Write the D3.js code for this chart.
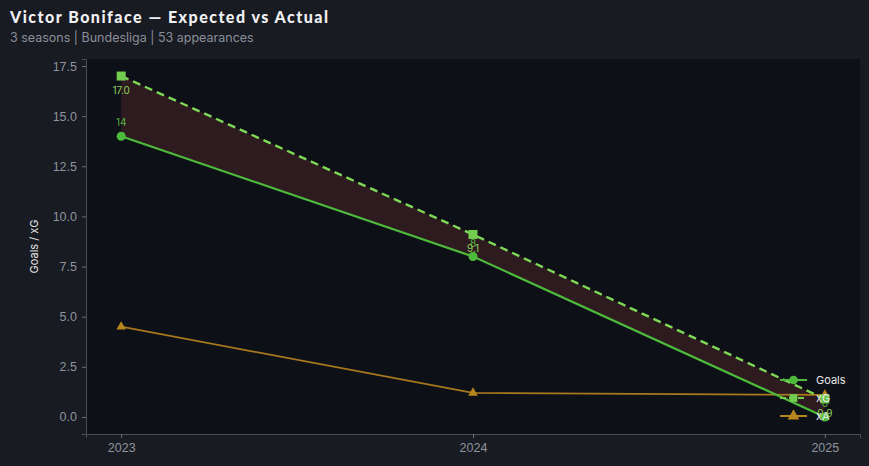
<!DOCTYPE html>
<head>
  <meta charset="utf-8">
  <script src="https://d3js.org/d3.v7.min.js"></script>
  <style>
    body { margin:0; background:#181b22; }
    svg { display:block; font-family: Inter, "Noto Sans", sans-serif; }
  </style>
</head>
<body>
<script>
  // data
  var seasons = [2023, 2024, 2025];
  var goals = [14, 8, 0];
  var xg = [17.0, 9.1, 0.9];
  var xa = [4.5, 1.2, 1.1];
  var yTicks = [0, 2.5, 5, 7.5, 10, 12.5, 15, 17.5];

  var width = 869, height = 466;
  var m = {left: 86, right: 9, top: 59, bottom: 32};

  var svg = d3.select("body").append("svg")
    .attr("width", width).attr("height", height);

  svg.append("rect").attr("width", width).attr("height", height).attr("fill", "#181b22");

  var x = d3.scaleLinear().domain([2022.9, 2025.1]).range([m.left, width - m.right]);
  var y = d3.scaleLinear().domain([-0.85, 17.85]).range([height - m.bottom, m.top]);

  svg.append("rect")
    .attr("x", m.left).attr("y", m.top)
    .attr("width", width - m.right - m.left)
    .attr("height", height - m.bottom - m.top)
    .attr("fill", "#0d1017");

  // title
  svg.append("text").attr("x", 10).attr("y", 23)
    .attr("fill", "#f0f0f2").attr("font-size", 16).attr("font-weight", 900)
    .attr("font-family", "Lato, sans-serif")
    .attr("textLength", 318).attr("lengthAdjust", "spacing")
    .text("Victor Boniface \u2014 Expected vs Actual");
  svg.append("text").attr("x", 10).attr("y", 42)
    .attr("fill", "#8a8f99").attr("font-size", 12.5)
    .text("3 seasons | Bundesliga | 53 appearances");

  // axes
  var yAxis = svg.append("g").attr("transform", "translate(" + m.left + ",0)")
    .call(d3.axisLeft(y).tickValues(yTicks).tickFormat(d3.format(".1f")).tickSize(4).tickPadding(5));
  var xAxis = svg.append("g").attr("transform", "translate(0," + (height - m.bottom) + ")")
    .call(d3.axisBottom(x).tickValues(seasons).tickFormat(d3.format("d")).tickSize(4).tickPadding(5));
  [xAxis, yAxis].forEach(function(g) {
    g.select(".domain").attr("stroke", "#4a4e57");
    g.selectAll(".tick line").attr("stroke", "#6a6e77");
    g.selectAll(".tick text").attr("fill", "#8e939c").attr("font-size", 12.5);
  });

  svg.append("text")
    .attr("transform", "translate(38," + y(8.5) + ") rotate(-90)")
    .attr("text-anchor", "middle").attr("fill", "#e6e6e6").attr("font-size", 11)
    .text("Goals / xG");

  var idx = d3.range(seasons.length);

  // gap between xG and goals
  svg.append("path")
    .datum(idx)
    .attr("fill", "#2e1b1f")
    .attr("d", d3.area()
      .x(function(i) { return x(seasons[i]); })
      .y0(function(i) { return y(goals[i]); })
      .y1(function(i) { return y(xg[i]); }));

  var line = function(vals) {
    return d3.line().x(function(i) { return x(seasons[i]); }).y(function(i) { return y(vals[i]); })(idx);
  };

  // xA
  svg.append("path").attr("d", line(xa)).attr("fill", "none")
    .attr("stroke", "#a8781c").attr("stroke-width", 1.8);
  svg.selectAll("path.xa").data(idx).enter().append("path").attr("class", "xa")
    .attr("transform", function(i) { return "translate(" + x(seasons[i]) + "," + y(xa[i]) + ")"; })
    .attr("d", d3.symbol(d3.symbolTriangle, 40)).attr("fill", "#b8861f");

  // goals
  svg.append("path").attr("d", line(goals)).attr("fill", "none")
    .attr("stroke", "#4dba3c").attr("stroke-width", 2.2);
  svg.selectAll("circle.g").data(idx).enter().append("circle").attr("class", "g")
    .attr("cx", function(i) { return x(seasons[i]); })
    .attr("cy", function(i) { return y(goals[i]); })
    .attr("r", 4.5).attr("fill", "#4dba3c");

  // xG
  svg.append("path").attr("d", line(xg)).attr("fill", "none")
    .attr("stroke", "#7ed957").attr("stroke-width", 2.4).attr("stroke-dasharray", "8,5");
  svg.selectAll("rect.xg").data(idx).enter().append("rect").attr("class", "xg")
    .attr("x", function(i) { return x(seasons[i]) - 4.5; })
    .attr("y", function(i) { return y(xg[i]) - 4.5; })
    .attr("width", 9).attr("height", 9).attr("fill", "#72cc4f");

  // value labels
  svg.selectAll("text.gl").data(idx).enter().append("text").attr("class", "gl")
    .attr("x", function(i) { return x(seasons[i]); })
    .attr("y", function(i) { return y(goals[i]) - 10; })
    .attr("text-anchor", "middle").attr("font-size", 10).attr("fill", "#56b544")
    .text(function(i) { return goals[i]; });
  svg.selectAll("text.xl").data(idx).enter().append("text").attr("class", "xl")
    .attr("x", function(i) { return x(seasons[i]); })
    .attr("y", function(i) { return y(xg[i]) + 18; })
    .attr("text-anchor", "middle").attr("font-size", 10).attr("fill", "#8fcf5a")
    .text(function(i) { return xg[i].toFixed(1); });

  // legend
  var legend = [
    {name: "Goals", color: "#4dba3c", dash: null, sym: "circle"},
    {name: "xG", color: "#72cc4f", dash: "6,3", sym: "square"},
    {name: "xA", color: "#b8861f", dash: null, sym: "triangle"}
  ];
  var lg = svg.selectAll("g.leg").data(legend).enter().append("g").attr("class", "leg")
    .attr("transform", function(d, i) { return "translate(780," + (380 + i * 18) + ")"; });
  lg.append("line").attr("x1", 0).attr("x2", 27)
    .attr("stroke", function(d) { return d.color; }).attr("stroke-width", 2)
    .attr("stroke-dasharray", function(d) { return d.dash; });
  lg.append("path").attr("transform", "translate(13.5,0)")
    .attr("d", function(d) {
      var t = d.sym == "circle" ? d3.symbolCircle : d.sym == "square" ? d3.symbolSquare : d3.symbolTriangle;
      return d3.symbol(t, 60)();
    })
    .attr("fill", function(d) { return d.color; });
  lg.append("text").attr("x", 36).attr("dy", "0.35em")
    .attr("fill", "#e8e8e8").attr("font-size", 11)
    .text(function(d) { return d.name; });
</script>
</body>
